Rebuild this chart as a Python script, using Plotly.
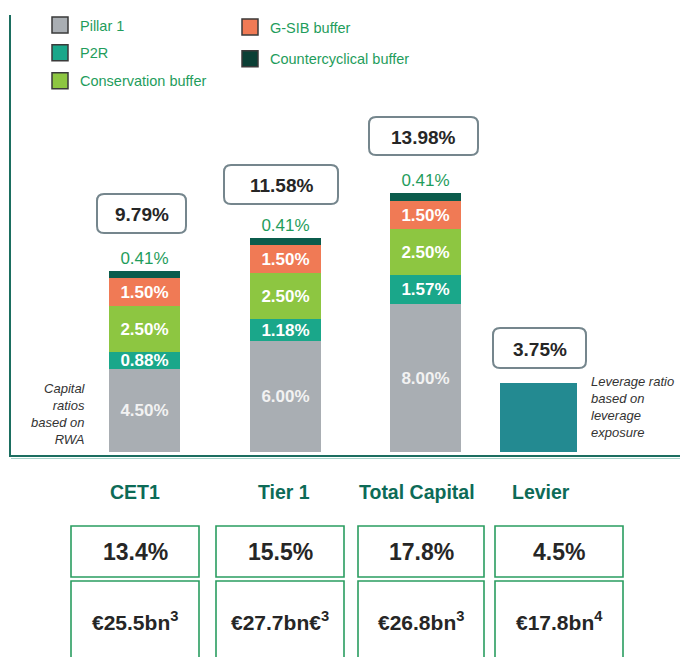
import plotly.graph_objects as go

# ---- data -------------------------------------------------------------
categories = ["CET1", "Tier 1", "Total Capital"]
pillar1 = [4.50, 6.00, 8.00]
p2r = [0.88, 1.18, 1.57]
conservation = [2.50, 2.50, 2.50]
gsib = [1.50, 1.50, 1.50]
countercyclical = [0.41, 0.41, 0.41]
leverage_category = ["Levier"]
leverage_req = [3.75]
totals = ["9.79%", "11.58%", "13.98%", "3.75%"]

table_headers = ["CET1", "Tier 1", "Total Capital", "Levier"]
table_ratios = ["13.4%", "15.5%", "17.8%", "4.5%"]
table_amounts = ["€25.5bn<sup>3</sup>", "€27.7bn€<sup>3</sup>",
                 "€26.8bn<sup>3</sup>", "€17.8bn<sup>4</sup>"]

# ---- layout constants (pixels) -----------------------------------------
W, H = 680, 657
BASE_PX = 452          # pixel row of the 0 % baseline
PX_PER_PCT = 18.5      # vertical scale of the bars
bar_x = [144.5, 285.5, 425.5]
bar_w = 71
lev_x = [538.5]
lev_w = 77

FONT = "Liberation Sans, Arial, Helvetica, sans-serif"
C_PILLAR = "#a9aeb3"
C_P2R = "#1aa78a"
C_CONS = "#8dc641"
C_GSIB = "#f07a55"
C_CCYB = "#0b5c4c"
C_CCYB_KEY = "#0a3f35"
C_LEV = "#238a91"
GREEN_TXT = "#1f9d5c"
HEAD_TXT = "#0d6b57"
DARK_TXT = "#262626"
FRAME = "#1b6e60"
BOX_GREEN = "#2a9d60"


def fx(px):
    return px / W


def fy(py):
    return 1 - py / H


fig = go.Figure()

segments = [
    ("Pillar 1", pillar1, C_PILLAR, "#f2f2f2"),
    ("P2R", p2r, C_P2R, "white"),
    ("Conservation buffer", conservation, C_CONS, "white"),
    ("G-SIB buffer", gsib, C_GSIB, "white"),
]
for name, vals, color, tcol in segments:
    fig.add_trace(go.Bar(
        x=bar_x, y=vals, width=bar_w, name=name, customdata=categories,
        marker=dict(color=color, line=dict(width=0)),
        texttemplate="%{y:.2f}%", textposition="inside",
        insidetextanchor="middle",
        textfont=dict(family=FONT, size=17, color=tcol, weight="bold"),
        hovertemplate="%{customdata}: %{y:.2f}%<extra>" + name + "</extra>",
        showlegend=False,
    ))

fig.add_trace(go.Bar(
    x=bar_x, y=countercyclical, width=bar_w, name="Countercyclical buffer",
    customdata=categories,
    marker=dict(color=C_CCYB, line=dict(width=0)),
    texttemplate="%{y:.2f}%", textposition="outside", cliponaxis=False,
    outsidetextfont=dict(family=FONT, size=17, color=GREEN_TXT),
    hovertemplate="%{customdata}: %{y:.2f}%<extra>Countercyclical buffer</extra>",
    showlegend=False,
))

fig.add_trace(go.Bar(
    x=lev_x, y=leverage_req, width=lev_w, name="Leverage ratio",
    customdata=leverage_category,
    marker=dict(color=C_LEV, line=dict(width=0)),
    textposition="none",
    hovertemplate="%{customdata}: %{y:.2f}%<extra></extra>",
    showlegend=False,
))

# legend keys (two columns)
keys = [
    ("Pillar 1", C_PILLAR, "legend"),
    ("P2R", C_P2R, "legend"),
    ("Conservation buffer", C_CONS, "legend"),
    ("G-SIB buffer", C_GSIB, "legend2"),
    ("Countercyclical buffer", C_CCYB_KEY, "legend2"),
]
for name, color, lg in keys:
    fig.add_trace(go.Scatter(
        x=[None], y=[None], mode="markers", name=name,
        marker=dict(symbol="square", size=16, color=color,
                    line=dict(color="#3a3a3a", width=1.5)),
        legend=lg, legendgroup=name, showlegend=True, hoverinfo="skip",
    ))

shapes = []
annotations = []

# frame
shapes.append(dict(type="line", xref="paper", yref="paper",
                   x0=fx(10), x1=fx(10), y0=fy(15), y1=fy(456),
                   line=dict(color=FRAME, width=2)))
shapes.append(dict(type="line", xref="paper", yref="paper",
                   x0=fx(9), x1=fx(680), y0=fy(456), y1=fy(456),
                   line=dict(color=FRAME, width=2)))
shapes.append(dict(type="line", xref="paper", yref="paper",
                   x0=fx(11), x1=fx(680), y0=fy(458.5), y1=fy(458.5),
                   line=dict(color="#a8d4ca", width=1)))


def rounded_rect(x0, y0, x1, y1, r):
    X0, X1 = fx(x0), fx(x1)
    Y0, Y1 = fy(y0), fy(y1)
    rx, ry = r / W, r / H
    return (f"M{X0 + rx},{Y0} L{X1 - rx},{Y0} Q{X1},{Y0} {X1},{Y0 - ry} "
            f"L{X1},{Y1 + ry} Q{X1},{Y1} {X1 - rx},{Y1} L{X0 + rx},{Y1} "
            f"Q{X0},{Y1} {X0},{Y1 + ry} L{X0},{Y0 - ry} Q{X0},{Y0} {X0 + rx},{Y0} Z")


def label(px, py, text, size, color, xanchor="center", align="center"):
    return dict(xref="paper", yref="paper", x=fx(px), y=fy(py),
                xanchor=xanchor, yanchor="middle", align=align,
                text=text, showarrow=False,
                font=dict(family=FONT, size=size, color=color))


# boxed totals above each column
total_boxes = [(97, 194, 186, 233), (224, 165, 338, 204),
               (369, 117, 478, 155), (493, 328, 586, 368)]
for (x0, y0, x1, y1), txt in zip(total_boxes, totals):
    shapes.append(dict(type="path", xref="paper", yref="paper",
                       path=rounded_rect(x0, y0, x1, y1, 7),
                       line=dict(color="#75868d", width=2),
                       fillcolor="white", layer="above"))
    annotations.append(label((x0 + x1) / 2, (y0 + y1) / 2 + 1,
                             f"<b>{txt}</b>", 19, DARK_TXT))

# side notes
annotations.append(label(88, 414, "<i>Capital<br>ratios<br>based on<br>RWA</i>",
                         13, "#333333", xanchor="right", align="right"))
annotations.append(label(589, 407,
                         "<i>Leverage ratio<br>based on<br>leverage<br>exposure</i>",
                         13, "#333333", xanchor="left", align="left"))

# summary table
head_x = [135, 284, 417, 541]
col_boxes = [(71, 199), (216, 344), (358, 484), (495, 623)]
for hx, txt in zip(head_x, table_headers):
    annotations.append(label(hx, 492, f"<b>{txt}</b>", 19.5, HEAD_TXT))
for (x0, x1), r_txt, a_txt in zip(col_boxes, table_ratios, table_amounts):
    shapes.append(dict(type="rect", xref="paper", yref="paper",
                       x0=fx(x0), x1=fx(x1), y0=fy(526), y1=fy(577),
                       line=dict(color=BOX_GREEN, width=1.6)))
    shapes.append(dict(type="rect", xref="paper", yref="paper",
                       x0=fx(x0), x1=fx(x1), y0=fy(581), y1=fy(680),
                       line=dict(color=BOX_GREEN, width=1.6)))
    annotations.append(label((x0 + x1) / 2, 552, f"<b>{r_txt}</b>", 23, DARK_TXT))
    annotations.append(label((x0 + x1) / 2, 621, f"<b>{a_txt}</b>", 21, DARK_TXT))

legend_style = dict(font=dict(family=FONT, size=14.5, color=GREEN_TXT),
                    bgcolor="rgba(0,0,0,0)", borderwidth=0,
                    xanchor="left", yanchor="top", itemsizing="trace",
                    orientation="v")

fig.update_layout(
    width=W, height=H,
    margin=dict(l=0, r=0, t=0, b=0, pad=0),
    paper_bgcolor="white", plot_bgcolor="white",
    barmode="stack", bargap=0,
    uniformtext=dict(minsize=17, mode="show"),
    xaxis=dict(range=[0, W], visible=False, fixedrange=True),
    yaxis=dict(range=[(BASE_PX - H) / PX_PER_PCT, BASE_PX / PX_PER_PCT],
               visible=False, fixedrange=True),
    legend=dict(x=fx(40), y=fy(9), tracegroupgap=6, **legend_style),
    legend2=dict(x=fx(230), y=fy(11), tracegroupgap=10, **legend_style),
    shapes=shapes,
    annotations=annotations,
    showlegend=True,
    hovermode="closest",
)

fig.write_html("out.html", config={"displayModeBar": False})
